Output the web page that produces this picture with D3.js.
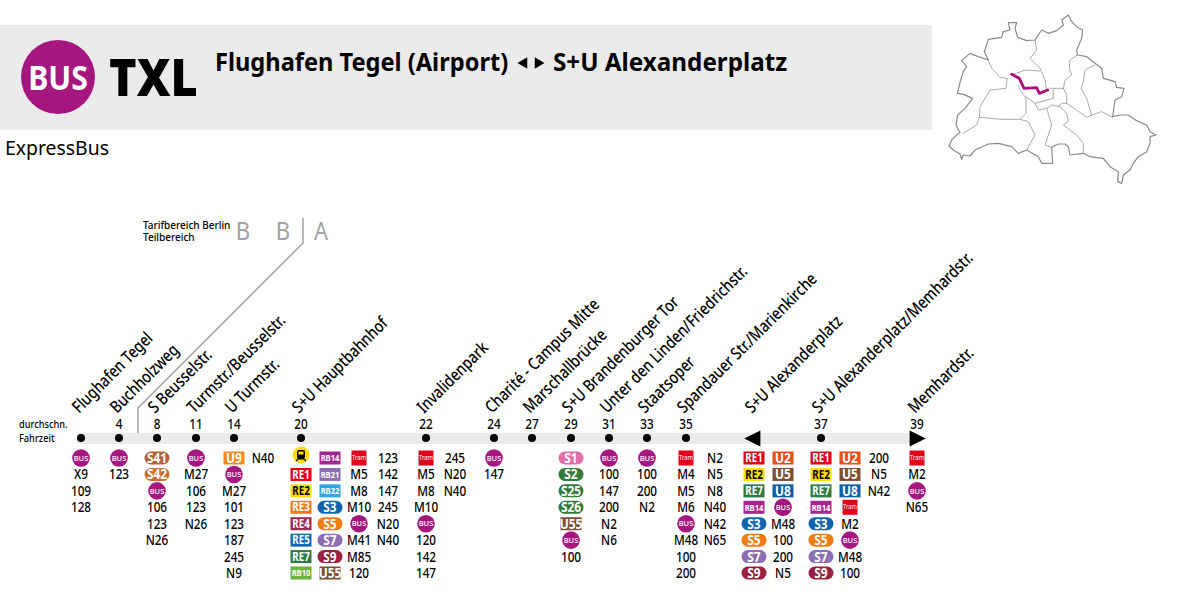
<!DOCTYPE html>
<html>
<head>
<meta charset="utf-8">
<script src="https://cdn.jsdelivr.net/npm/d3@7"></script>
<style>
  html, body { margin: 0; padding: 0; background: #fff; }
  svg { display: block; }
  text { font-family: "Noto Sans", sans-serif; fill: #000; }
</style>
</head>
<body>
<svg id="chart" width="1200" height="596"></svg>
<script>
const stations = ["Flughafen Tegel", "Buchholzweg", "S Beusselstr.", "Turmstr./Beusselstr.", "U Turmstr.", "S+U Hauptbahnhof",
  "Invalidenpark", "Charité - Campus Mitte", "Marschallbrücke", "S+U Brandenburger Tor", "Unter den Linden/Friedrichstr.",
  "Staatsoper", "Spandauer Str./Marienkirche", "S+U Alexanderplatz", "S+U Alexanderplatz/Memhardstr.", "Memhardstr."];
const times = ["", "4", "8", "11", "14", "20", "22", "24", "27", "29", "31", "33", "35", "", "37", "39"];
const routes = [
  [["BUS", "X9", "109", "128"]],
  [["BUS", "123"]],
  [["S41", "S42", "BUS", "106", "123", "N26"]],
  [["BUS", "M27", "106", "123", "N26"]],
  [["U9", "BUS", "M27", "101", "123", "187", "245", "N9"], ["N40"]],
  [["Train", "RE1", "RE2", "RE3", "RE4", "RE5", "RE7", "RB10"], ["RB14", "RB21", "RB22", "S3", "S5", "S7", "S9", "U55"],
    ["Tram", "M5", "M8", "M10", "BUS", "M41", "M85", "120"], ["123", "142", "147", "245", "N20", "N40"]],
  [["Tram", "M5", "M8", "M10", "BUS", "120", "142", "147"], ["245", "N20", "N40"]],
  [["BUS", "147"]],
  [],
  [["S1", "S2", "S25", "S26", "U55", "BUS", "100"]],
  [["BUS", "100", "147", "200", "N2", "N6"]],
  [["BUS", "100", "200", "N2"]],
  [["Tram", "M4", "M5", "M6", "BUS", "M48", "100", "200"], ["N2", "N5", "N8", "N40", "N42", "N65"]],
  [["RE1", "RE2", "RE7", "RB14", "S3", "S5", "S7", "S9"], ["U2", "U5", "U8", "BUS", "M48", "100", "200", "N5"]],
  [["RE1", "RE2", "RE7", "RB14", "S3", "S5", "S7", "S9"], ["U2", "U5", "U8", "Tram", "M2", "BUS", "M48", "100"], ["200", "N5", "N42"]],
  [["Tram", "M2", "BUS", "N65"]]
];

// Berlin outline
const mapOutline = [[125,478],[120,462],[100,450],[87,438],[95,420],[110,405],[120,398],[108,375],[113,345],[135,325],[158,295],[130,283],[112,280],[122,240],[130,215],[140,200],[125,182],[150,160],[175,170],[205,180],[193,155],[205,118],[245,112],[250,95],[270,90],[265,68],[290,68],[285,85],[293,112],[320,122],[345,120],[365,90],[385,100],[410,92],[430,75],[425,60],[445,45],[455,65],[470,80],[488,90],[485,115],[470,150],[472,165],[500,170],[525,190],[545,205],[550,235],[585,245],[590,262],[612,265],[605,290],[585,300],[578,350],[600,345],[625,345],[650,362],[680,375],[690,395],[708,405],[690,410],[690,430],[680,455],[655,470],[640,490],[630,510],[610,525],[605,550],[593,545],[595,515],[570,500],[550,475],[510,470],[490,460],[450,465],[445,440],[435,432],[415,432],[395,442],[398,490],[365,490],[355,470],[320,450],[295,460],[275,440],[235,430],[205,432],[165,450],[150,468],[130,465],[125,478]];
const mapDistricts = [
  [[205,180],[215,205],[240,232],[262,235],[258,265],[210,270],[180,320],[178,352],[170,375],[130,400]],
  [[178,352],[245,358],[300,358],[318,340],[318,295],[300,270],[295,255]],
  [[300,358],[325,365],[345,405],[320,450]],
  [[345,120],[350,150],[330,175],[360,205],[375,240],[380,270]],
  [[275,225],[315,210],[360,213]],
  [[472,165],[450,180],[448,205],[455,225],[435,240],[430,268]],
  [[525,195],[495,210],[490,245],[483,265],[500,295],[515,345]],
  [[390,265],[430,265],[440,285],[440,310],[470,330],[500,352],[515,345],[545,335],[578,352]],
  [[415,315],[440,340],[445,365],[430,375],[470,405],[490,430],[490,460]],
  [[380,325],[395,375],[375,435],[395,442]],
  [[345,310],[355,330],[380,325],[395,315],[415,320],[425,310],[440,310]],
  [[318,290],[345,310],[400,295],[400,270]]
];
const mapRoute = [[275,223],[298,235],[305,250],[312,265],[350,263],[358,280],[383,270]];

const svg = d3.select("#chart");
const PURPLE = "#a6167f";

const badgeColors = {
  RE1: "#e2001a", RE2: "#ffdd00", RE3: "#f47a20", RE4: "#a3264e", RE5: "#1766b0", RE7: "#327a3f", RB10: "#6cb43f",
  RB14: "#a6268f", RB21: "#8d6db0", RB22: "#2ea6e0",
  S1: "#e36fa9", S2: "#357a3b", S25: "#357a3b", S26: "#357a3b", S3: "#1064ae", S41: "#b3623a", S42: "#c9702f",
  S5: "#f47a12", S7: "#8c6fb3", S9: "#99203f",
  U2: "#e94e1b", U5: "#7f4f35", U55: "#7f4f35", U8: "#0f5fa6", U9: "#f58a1f"
};

const x = d3.scaleOrdinal()
  .domain(stations)
  .range([81, 119, 157, 196, 234, 301, 426, 494, 532, 571, 609, 647, 686, 754, 821, 917]);
const rowY = d3.scaleLinear().domain([0, 7]).range([458, 573]);
const colX = d3.scaleLinear().domain([0, 1]).range([0, 29]);
const mapX = d3.scaleLinear().domain([0, 840]).range([920, 1200]);
const mapY = d3.scaleLinear().domain([0, 600]).range([0, 200]);

function label(parent, str, px, py, size, opts = {}) {
  const k = opts.condense || 0.84;
  const t = parent.append("text")
    .attr("transform", `translate(${px},${py}) rotate(${opts.rotate || 0}) scale(${k},1)`)
    .attr("font-size", size)
    .attr("font-weight", opts.weight || 500)
    .attr("text-anchor", opts.anchor || "start")
    .style("fill", opts.fill || "#000")
    .text(str);
  return t;
}

// header
svg.append("rect").attr("x", 0).attr("y", 25).attr("width", 932).attr("height", 105).attr("fill", "#ebebeb");
svg.append("circle").attr("cx", 58).attr("cy", 77).attr("r", 37).attr("fill", PURPLE);
label(svg, "BUS", 58, 90, 34, { weight: 700, anchor: "middle", fill: "#fff", condense: 0.89 });
label(svg, "TXL", 109, 96, 52, { weight: 900, condense: 0.9 });
label(svg, "Flughafen Tegel (Airport)", 215, 71, 25, { weight: 700, condense: 0.945 });
label(svg, "S+U Alexanderplatz", 553, 71, 25, { weight: 700, condense: 0.97 });
const titleArrow = d3.symbol().type(d3.symbolTriangle).size(55);
svg.append("path").attr("d", titleArrow).attr("transform", "translate(524,63) rotate(-90)");
svg.append("path").attr("d", titleArrow).attr("transform", "translate(538,63) rotate(90)");
label(svg, "ExpressBus", 5, 155, 20, { condense: 0.97, weight: 400 });

// map
const mapLine = d3.line().x(d => mapX(d[0])).y(d => mapY(d[1]));
const map = svg.append("g").attr("fill", "none").attr("stroke-linejoin", "round").attr("stroke-linecap", "round");
map.selectAll(".district").data(mapDistricts).join("path").attr("d", mapLine).attr("stroke", "#a0a0a0").attr("stroke-width", 0.9);
map.append("path").attr("d", mapLine(mapOutline)).attr("stroke", "#8a8a8a").attr("stroke-width", 1.2);
map.append("path").attr("d", mapLine(mapRoute)).attr("stroke", "#a6107f").attr("stroke-width", 2.8);

// fare zones
label(svg, "Tarifbereich Berlin", 143, 229, 11.5, { condense: 0.87 });
label(svg, "Teilbereich", 143, 241, 11.5, { condense: 0.87 });
[["B", 243], ["B", 283], ["A", 321]].forEach(d => label(svg, d[0], d[1], 240, 26, { anchor: "middle", fill: "#a3a3a3", condense: 0.85, weight: 400 }));
svg.append("path").attr("d", d3.line()([[303, 218], [303, 243], [138, 408], [138, 438]]))
  .attr("fill", "none").attr("stroke", "#9a9a9a").attr("stroke-width", 1.4);

// line
label(svg, "durchschn.", 19, 428, 11.5, { condense: 0.8 });
label(svg, "Fahrzeit", 19, 442, 11.5, { condense: 0.8 });
svg.append("rect").attr("x", 77).attr("y", 433).attr("width", 833).attr("height", 11).attr("fill", "#ebebeb");

const arrow = d3.symbol().type(d3.symbolTriangle).size(150);
stations.forEach((name, i) => {
  const sx = x(name);
  const g = svg.append("g");
  label(g, name, sx - 2, 414, 17, { rotate: -45, condense: 0.82 });
  if (times[i]) label(g, times[i], sx, 429, 14, { anchor: "middle" });
  if (name === "S+U Alexanderplatz") {
    g.append("path").attr("d", arrow).attr("transform", `translate(${sx + 1},438.5) rotate(-90) scale(0.85,1)`);
  } else if (name === "Memhardstr.") {
    g.append("path").attr("d", arrow).attr("transform", `translate(${sx - 2},438.5) rotate(90) scale(0.85,1)`);
  } else {
    g.append("circle").attr("cx", sx).attr("cy", 438).attr("r", 4).attr("fill", "#000");
  }
  routes[i].forEach((col, c) => {
    col.forEach((item, r) => drawItem(g, item, sx + colX(c), rowY(r)));
  });
});

function drawItem(g, item, cx, cy) {
  if (item === "BUS") {
    g.append("circle").attr("cx", cx).attr("cy", cy).attr("r", 8.8).attr("fill", PURPLE);
    label(g, "BUS", cx, cy + 2.7, 7.5, { anchor: "middle", fill: "#fff", weight: 500, condense: 1 });
  } else if (item === "Tram") {
    g.append("rect").attr("x", cx - 7.5).attr("y", cy - 7.5).attr("width", 15).attr("height", 15).attr("fill", "#e2001a");
    label(g, "Tram", cx, cy + 2.2, 6.5, { anchor: "middle", fill: "#fff", condense: 0.9, weight: 400 });
  } else if (item === "Train") {
    g.append("circle").attr("cx", cx).attr("cy", cy - 3).attr("r", 8.5).attr("fill", "#ffdd00");
    g.append("rect").attr("x", cx - 4).attr("y", cy - 8).attr("width", 8).attr("height", 9).attr("rx", 2).attr("fill", "#000");
    g.append("rect").attr("x", cx - 2.5).attr("y", cy - 6.5).attr("width", 5).attr("height", 3).attr("fill", "#ffdd00");
    g.append("path").attr("d", d3.line()([[cx - 5, cy + 3], [cx - 3, cy + 1], [cx + 3, cy + 1], [cx + 5, cy + 3]]))
      .attr("fill", "none").attr("stroke", "#000").attr("stroke-width", 1.2);
  } else if (badgeColors[item]) {
    const isS = item[0] === "S";
    const w = isS ? 25 : 21;
    const small = item[0] === "R" && item[1] === "B";
    g.append("rect").attr("x", cx - w / 2).attr("y", cy - 6.5).attr("width", w).attr("height", 13)
      .attr("rx", isS ? 6.5 : 0).attr("fill", badgeColors[item]);
    const size = small ? 9.5 : item[0] === "U" || isS ? 14 : 11.5;
    label(g, item, cx, cy + size * 0.36, size, {
      anchor: "middle", weight: 700, fill: item === "RE2" ? "#000" : "#fff", condense: small ? 0.8 : 0.85
    });
  } else {
    label(g, item, cx, cy + 5, 14, { anchor: "middle" });
  }
}
</script>
</body>
</html>
